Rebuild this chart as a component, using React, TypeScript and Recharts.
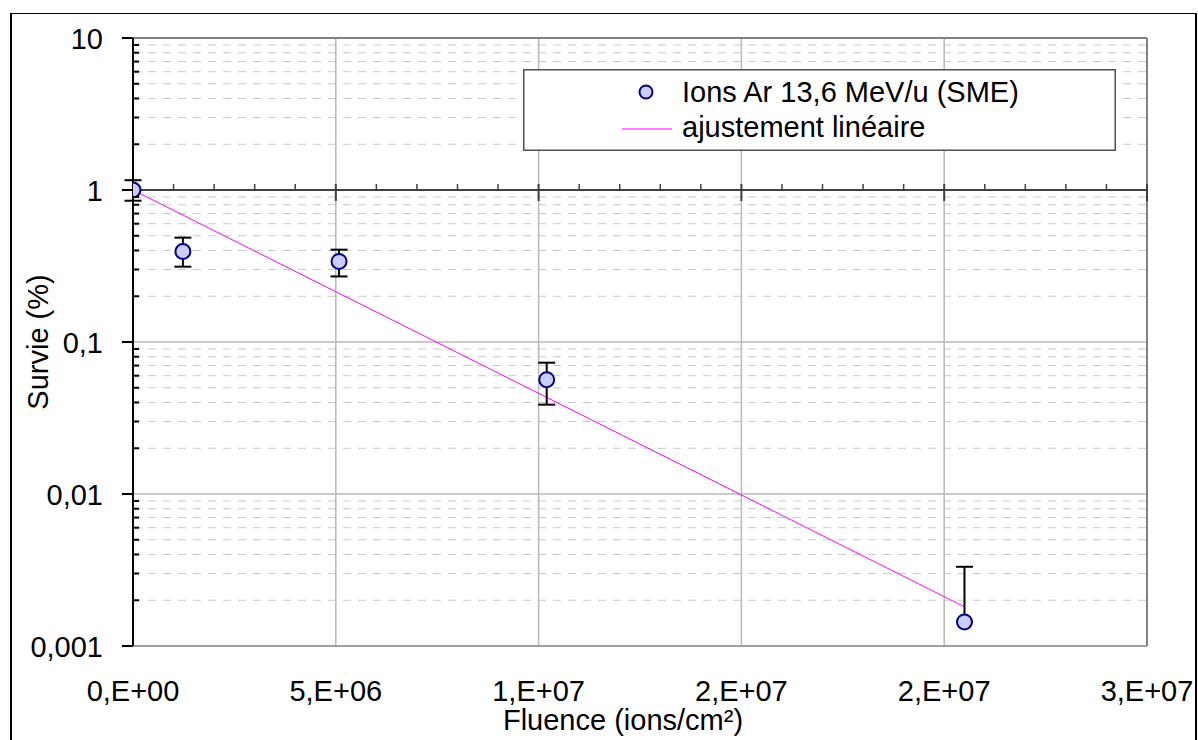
import React from 'react';
import {
  ComposedChart,
  Scatter,
  Line,
  XAxis,
  YAxis,
  CartesianGrid,
  ErrorBar,
  Legend,
} from 'recharts';

// ---- data ----
const fluence = [0, 1.23e6, 5.08e6, 1.02e7, 2.05e7];
const survival = [1.0, 0.394, 0.339, 0.0565, 0.00144];
const errLow = [0.15, 0.081, 0.069, 0.0178, 0];
const errHigh = [0.16, 0.092, 0.066, 0.0166, 0.00188];

const fitX = [0, 2.05e7];
const fitY = [1.0, 0.00181];

const xTickValues = [0, 5e6, 1e7, 1.5e7, 2e7, 2.5e7];
const xTickLabels = ['0,E+00', '5,E+06', '1,E+07', '2,E+07', '2,E+07', '3,E+07'];
const xMinorStep = 1e6;

const yMajorTicks = [0.001, 0.01, 0.1, 1, 10];
const yMajorLabels = ['0,001', '0,01', '0,1', '1', '10'];
const yMinorMultipliers = [2, 3, 4, 5, 6, 7, 8, 9];

const seriesName = 'Ions Ar 13,6 MeV/u (SME)';
const fitName = 'ajustement linéaire';
const xTitle = 'Fluence (ions/cm²)';
const yTitle = 'Survie (%)';

// ---- derived tables ----
const points = fluence.map((x, i) => ({ x, y: survival[i], err: [errLow[i], errHigh[i]] }));
const fitData = fitX.map((x, i) => ({ x, y: fitY[i] }));
const yMinorTicks: number[] = [];
yMajorTicks.slice(0, -1).forEach((d) => yMinorMultipliers.forEach((m) => yMinorTicks.push(+(m * d).toPrecision(6))));
const yAllTicks = [...yMajorTicks, ...yMinorTicks].sort((a, b) => a - b);
const xMax = xTickValues[xTickValues.length - 1];
const xMinorTicks: number[] = [];
for (let v = xMinorStep; v < xMax; v += xMinorStep) {
  if (!xTickValues.includes(Math.round(v))) xMinorTicks.push(Math.round(v));
}

const FONT = '"Liberation Sans", Arial, sans-serif';
const FS = 29;

const YTick = (props: any) => {
  const { x, y, payload } = props;
  const i = yMajorTicks.indexOf(payload.value);
  if (i >= 0) {
    return (
      <g>
        <line x1={x - 11} y1={y} x2={x} y2={y} stroke="#000" strokeWidth={2} />
        <text x={x - 30} y={y} dy={10.5} textAnchor="end" fontSize={FS} fontFamily={FONT} fill="#000">
          {yMajorLabels[i]}
        </text>
      </g>
    );
  }
  return <line x1={x} y1={y} x2={x + 6} y2={y} stroke="#000" strokeWidth={2} />;
};

const XTick = (props: any) => {
  const { x, y, index } = props;
  return (
    <text x={x} y={y} dy={55} textAnchor="middle" fontSize={FS} fontFamily={FONT} fill="#000">
      {xTickLabels[index]}
    </text>
  );
};

// horizontal axis crossing at y = 1 with tick marks
const CrossAxis = (props: any) => {
  const { x1, y1, x2 } = props;
  const w = x2 - x1;
  return (
    <g>
      <line x1={x1} y1={y1} x2={x2} y2={y1} stroke="#404040" strokeWidth={2} />
      {xMinorTicks.map((v) => {
        const px = x1 + (v / xMax) * w;
        return <line key={'m' + v} x1={px} y1={y1 - 6} x2={px} y2={y1} stroke="#404040" strokeWidth={1.5} />;
      })}
      {xTickValues.slice(1).map((v) => {
        const px = x1 + (v / xMax) * w;
        return <line key={'M' + v} x1={px} y1={y1 - 6} x2={px} y2={y1 + 11} stroke="#404040" strokeWidth={2} />;
      })}
    </g>
  );
};

const Marker = (props: any) => {
  const { cx, cy } = props;
  if (cx == null || cy == null) return null;
  return <circle cx={cx} cy={cy} r={7.5} fill="#ccccff" stroke="#000080" strokeWidth={2} />;
};

const LegendBox = () => (
  <svg width={593} height={82} style={{ display: 'block' }}>
    <rect x={0.75} y={0.75} width={591.5} height={80.5} fill="#fff" stroke="#505050" strokeWidth={1.5} />
    <circle cx={123} cy={23} r={6.5} fill="#ccccff" stroke="#000080" strokeWidth={2} />
    <text x={159} y={32.7} fontSize={FS} fontFamily={FONT} fill="#000">
      {seriesName}
    </text>
    <line x1={99} y1={60} x2={149} y2={60} stroke="#ff00ff" strokeWidth={1} />
    <text x={159} y={67.7} fontSize={FS} fontFamily={FONT} fill="#000">
      {fitName}
    </text>
  </svg>
);

const XTitle = () => (
  <text x={623} y={730} textAnchor="middle" fontSize={FS} fontFamily={FONT} fill="#000">
    {xTitle}
  </text>
);

const YTitle = () => (
  <text x={48} y={342} transform="rotate(-90, 48, 342)" textAnchor="middle" fontSize={FS} fontFamily={FONT} fill="#000">
    {yTitle}
  </text>
);

export default function App() {
  return (
    <div style={{ position: 'absolute', left: 0, top: 0, width: 1198, height: 740, background: '#fff', fontFamily: FONT, overflow: 'hidden' }}>
      <div
        style={{
          position: 'absolute',
          left: 10,
          top: 13,
          width: 1187,
          height: 740,
          borderTop: '1px solid #000',
          borderLeft: '2px solid #000',
          borderRight: '2px solid #000',
          boxSizing: 'border-box',
        }}
      />
      <div style={{ position: 'absolute', left: 0, top: 0 }}>
        <ComposedChart width={1198} height={740} margin={{ top: 38, right: 51, bottom: 0, left: 0 }}>
          <CartesianGrid horizontalValues={yMinorTicks} vertical={false} stroke="#c8c8c8" strokeWidth={1} strokeDasharray="8 7" />
          <CartesianGrid horizontalValues={[0.01, 0.1]} verticalValues={xTickValues.slice(1, -1)} stroke="#b8b8b8" strokeWidth={1.5} />
          <CartesianGrid horizontalValues={[10]} verticalValues={[xMax]} stroke="#808080" strokeWidth={2} />
          <CartesianGrid horizontalValues={[1]} vertical={false} horizontal={(p: any) => <CrossAxis key="cross" {...p} />} />
          <XAxis
            dataKey="x"
            type="number"
            domain={[0, xMax]}
            ticks={xTickValues}
            interval={0}
            tick={<XTick />}
            tickLine={false}
            tickSize={0}
            tickMargin={0}
            axisLine={{ stroke: '#a0a0a0', strokeWidth: 2 }}
            height={94}
            allowDataOverflow
            label={<XTitle />}
          />
          <YAxis
            type="number"
            scale="log"
            domain={[0.001, 10]}
            ticks={yAllTicks}
            interval={0}
            tick={<YTick />}
            tickLine={false}
            tickSize={0}
            tickMargin={0}
            axisLine={{ stroke: '#000', strokeWidth: 2 }}
            width={133}
            allowDataOverflow
            label={<YTitle />}
          />
          <Line
            data={fitData}
            dataKey="y"
            type="linear"
            stroke="#ff00ff"
            strokeWidth={1}
            dot={false}
            activeDot={false}
            isAnimationActive={false}
            name={fitName}
          />
          <Scatter data={points} dataKey="y" shape={<Marker />} isAnimationActive={false} name={seriesName}>
            <ErrorBar dataKey="err" direction="y" width={8.5} stroke="#000" strokeWidth={2} isAnimationActive={false} />
          </Scatter>
          <Legend
            layout="vertical"
            align="center"
            verticalAlign="middle"
            content={() => <LegendBox />}
            wrapperStyle={{ position: 'absolute', left: 523, top: 69, width: 593, height: 82 }}
          />
        </ComposedChart>
      </div>
    </div>
  );
}
